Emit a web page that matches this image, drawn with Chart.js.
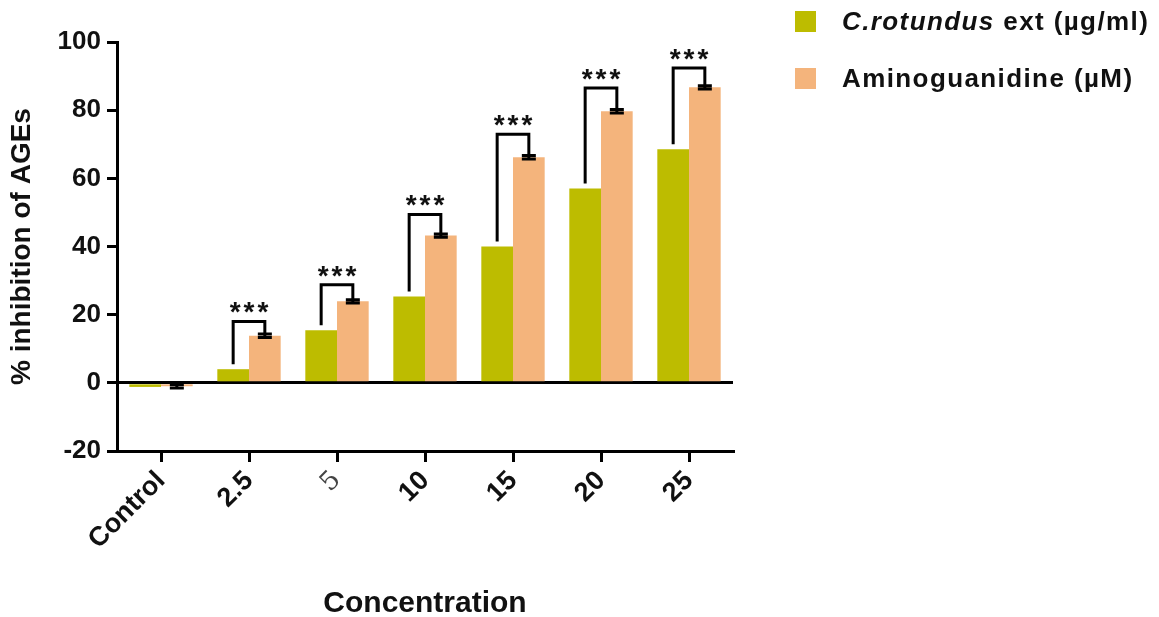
<!DOCTYPE html>
<html>
<head>
<meta charset="utf-8">
<script src="https://cdn.jsdelivr.net/npm/chart.js@4.4.1/dist/chart.umd.min.js"></script>
<style>
  html, body { margin: 0; padding: 0; background: #fff; }
  #wrap { position: relative; width: 1159px; height: 617px; }
  #legend {
    position: absolute; left: 795px; top: -7px;
    font-family: 'Liberation Sans', Arial, sans-serif;
    font-weight: bold; font-size: 26px; letter-spacing: 1.4px; color: #111;
  }
  .item { display: flex; align-items: center; height: 57px; white-space: nowrap; }
  .box { width: 21px; height: 21px; margin-right: 26px; flex: none; }
</style>
</head>
<body>
<div id="wrap">
  <canvas id="chart" width="1159" height="617"></canvas>
  <div id="legend"></div>
</div>
<script>
// data
const categories = ['Control', '2.5', '5', '10', '15', '20', '25'];
const seriesNames = ['C.rotundus ext (µg/ml)', 'Aminoguanidine (µM)'];
const extractValues = [-1.2, 4.0, 15.4, 25.3, 40.0, 57.0, 68.5];
const aminoValues = [-1.0, 13.8, 23.9, 43.2, 66.2, 79.7, 86.7];
const aminoErrors = [0.5, 0.5, 0.5, 0.5, 0.5, 0.5, 0.5];
// height of the significance bracket over each pair (null = no bracket)
const bracketTops = [null, 18.0, 28.8, 49.4, 72.9, 86.5, 92.4];
const yTicks = [-20, 0, 20, 40, 60, 80, 100];

const greenColor = '#bdbc00';
const orangeColor = '#f4b47c';
const fontFamily = "'Liberation Sans', Arial, sans-serif";

// legend (html so the species name can be italic)
const legendBox = document.getElementById('legend');
[greenColor, orangeColor].forEach((col, i) => {
    let txt = seriesNames[i].replace('C.rotundus', '<i>C.rotundus</i>');
    legendBox.innerHTML += '<div class="item"><span class="box" style="background:' + col + '"></span><span>' + txt + '</span></div>';
});

// error bars + brackets with stars
const annotations = {
    id: 'annotations',
    afterDatasetsDraw(chart) {
        const ctx = chart.ctx;
        const y = chart.scales.y;
        const greenBars = chart.getDatasetMeta(0).data;
        const orangeBars = chart.getDatasetMeta(1).data;
        ctx.save();
        ctx.strokeStyle = '#000';
        ctx.fillStyle = '#111';
        ctx.lineWidth = 3;
        ctx.lineCap = 'butt';
        ctx.lineJoin = 'miter';

        orangeBars.forEach((bar, i) => {
            const top = y.getPixelForValue(aminoValues[i] + aminoErrors[i]);
            const bot = y.getPixelForValue(aminoValues[i] - aminoErrors[i]);
            ctx.beginPath();
            ctx.moveTo(bar.x, top); ctx.lineTo(bar.x, bot);
            ctx.moveTo(bar.x - 7, top); ctx.lineTo(bar.x + 7, top);
            ctx.moveTo(bar.x - 7, bot); ctx.lineTo(bar.x + 7, bot);
            ctx.stroke();
        });

        ctx.font = 'bold 28px ' + fontFamily;
        ctx.textAlign = 'center';
        ctx.textBaseline = 'alphabetic';
        if ('letterSpacing' in ctx) ctx.letterSpacing = '3px';
        bracketTops.forEach((b, i) => {
            if (b === null) return;
            const gx = greenBars[i].x, ox = orangeBars[i].x;
            const yTop = y.getPixelForValue(b);
            const yLeft = y.getPixelForValue(extractValues[i]) - 5;
            const yRight = y.getPixelForValue(aminoValues[i] + aminoErrors[i]);
            ctx.beginPath();
            ctx.moveTo(gx, yLeft);
            ctx.lineTo(gx, yTop);
            ctx.lineTo(ox, yTop);
            ctx.lineTo(ox, yRight);
            ctx.stroke();
            ctx.fillText('***', (gx + ox) / 2 + 1.5, yTop);
        });
        ctx.restore();
    }
};

new Chart(document.getElementById('chart'), {
    type: 'bar',
    data: {
        labels: categories,
        datasets: [
            { label: seriesNames[0], data: extractValues, backgroundColor: greenColor },
            { label: seriesNames[1], data: aminoValues, backgroundColor: orangeColor }
        ]
    },
    options: {
        responsive: false,
        animation: false,
        categoryPercentage: 0.72,
        barPercentage: 1.0,
        layout: { padding: { left: 0, right: 426, top: 42, bottom: 0 } },
        plugins: { legend: { display: false }, tooltip: { enabled: false } },
        scales: {
            x: {
                grid: { offset: false, drawOnChartArea: false, color: '#000', lineWidth: 3, tickLength: 11 },
                border: { color: '#000', width: 3 },
                ticks: {
                    autoSkip: false, maxRotation: 45, minRotation: 45, padding: 3,
                    color: (c) => c.index === 2 ? '#444' : '#111',
                    font: (c) => c.index === 2
                        ? { family: "'DejaVu Serif', serif", size: 26, weight: 'normal' }
                        : { family: fontFamily, size: 27, weight: 'bold' }
                },
                title: {
                    display: true, text: 'Concentration', color: '#111',
                    font: { family: fontFamily, size: 30, weight: 'bold', lineHeight: 1 },
                    padding: { top: 0, bottom: -2 }
                },
                afterFit: (s) => { s.height = 617 - 451; }
            },
            y: {
                min: -20, max: 100,
                afterBuildTicks: (s) => { s.ticks = yTicks.map(v => ({ value: v })); },
                grid: {
                    color: (c) => c.tick && c.tick.value === 0 ? '#000' : 'rgba(0,0,0,0)',
                    tickColor: '#000', lineWidth: 3, tickLength: 10
                },
                border: { color: '#000', width: 3 },
                ticks: { padding: 6, color: '#111', font: { family: fontFamily, size: 26, weight: 'bold' } },
                title: {
                    display: true, text: '% inhibition of AGEs', color: '#111',
                    font: { family: fontFamily, size: 28, weight: 'bold', lineHeight: 1 },
                    padding: { top: 8, bottom: 0 }
                },
                afterFit: (s) => { s.width = 117; }
            }
        }
    },
    plugins: [annotations]
});
</script>
</body>
</html>
